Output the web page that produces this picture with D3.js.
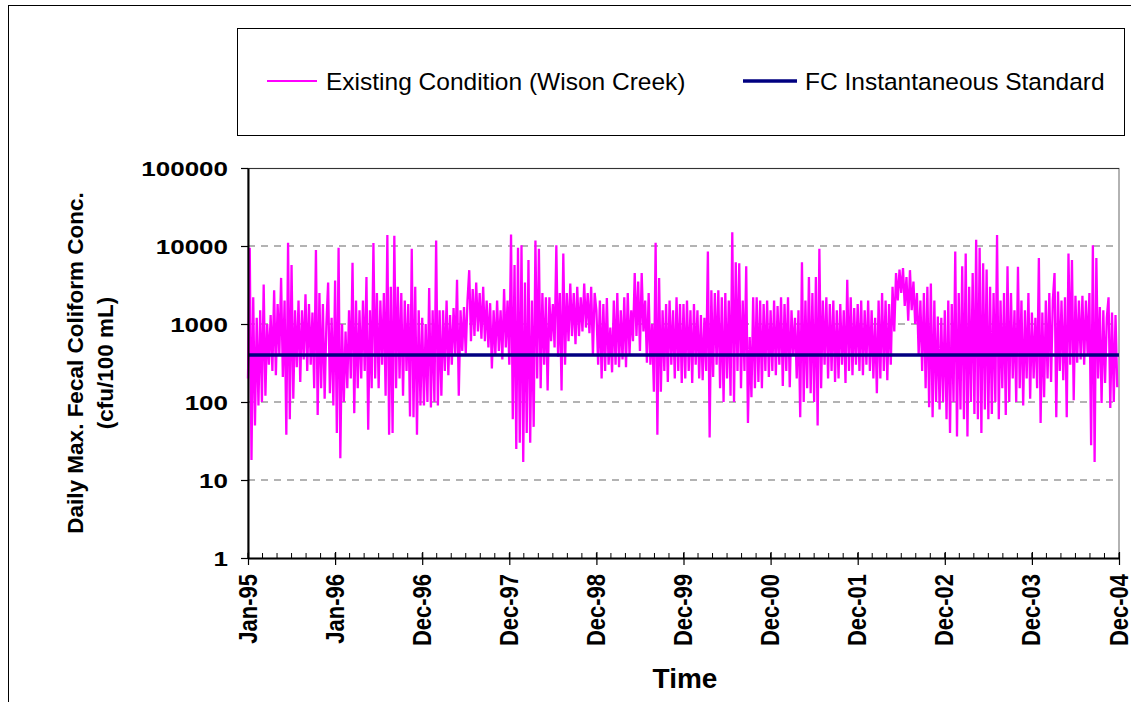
<!DOCTYPE html>
<html>
<head>
<meta charset="utf-8">
<script src="https://cdn.jsdelivr.net/npm/d3@7"></script>
<style>
  html, body { margin: 0; padding: 0; background: #fff; }
  svg { display: block; font-family: "Liberation Sans", Arial, sans-serif; }
</style>
</head>
<body>
<script>
// ---------------- DATA ----------------
const seriesName = "Existing Condition (Wison Creek)";
const standardName = "FC Instantaneous Standard";
const standardValue = 400;
const xTickLabels = ["Jan-95","Jan-96","Dec-96","Dec-97","Dec-98","Dec-99","Dec-00","Dec-01","Dec-02","Dec-03","Dec-04"];
const yTickValues = [1, 10, 100, 1000, 10000, 100000];
const yGridValues = [10, 100, 1000, 10000];

// daily max fecal coliform (cfu/100 mL), sampled ~every 7 days, one list per year
const fc1995 = [200,9500,18,2200,50,1200,90,1500,100,3200,120,1000,300,1300,250,2700,220,1800,400,3900,210,2000,38,11000,60,5700,110,1500,280,2000,180,1500,350,2400,250,1800,300,1400,150,8900,68,2500,150,1800,110,1000,3400,130,1200,90];
const fc1996 = [3600,40,9500,19,1000,100,800,150,1500,200,6100,72,2000,150,1500,200,2000,250,4000,44,1500,150,10900,200,2500,150,2000,300,2500,120,13800,38,3000,40,13500,150,3000,200,2500,120,2000,250,1800,65,9200,64,3000,38,1500,90];
const fc1997 = [1200,90,1000,100,2900,85,1500,100,11800,90,1500,120,1500,250,2000,220,1300,300,1600,400,3700,120,1500,450,1650,420,2000,4900,600,2800,700,3400,800,2500,650,3000,600,2000,500,1850,270,1500,400,2000,450,1500,350,2800,500,2000];
const fc1998 = [300,14000,60,5700,25,9500,30,10200,17,3400,40,6600,30,2000,48,11800,200,9200,150,2500,300,2200,140,2200,600,1800,500,10200,380,2500,140,8000,300,2500,600,3300,700,2500,550,3000,700,2200,800,3300,900,2500,760,3000,400,2500];
const fc1999 = [1500,300,2000,200,1800,250,2150,300,900,240,2000,300,2500,280,1500,350,2200,280,2500,400,1500,600,4500,700,3500,450,4500,800,2000,320,2500,300,1000,135,11000,38,3900,135,1500,250,1800,180,2000,300,1500,200,2200,250,1800,175];
const fc2000 = [1800,200,2000,250,1500,175,1800,300,1500,200,1300,190,1200,250,8500,35,2700,210,2500,300,2700,150,2200,100,2500,200,2000,120,15000,100,6200,250,6000,150,2000,250,5500,54,680,115,2200,150,2200,180,2000,150,1800,250,2000,210];
const fc2001 = [1500,250,2000,220,1700,300,2200,160,1800,250,2200,155,1500,400,1200,200,1500,64,6200,100,2000,150,4000,130,2500,100,4000,50,9200,150,2000,300,2200,200,1800,250,2000,180,1500,200,1800,300,1500,175,3700,250,2200,220,1600,300];
const fc2002 = [1800,250,2000,220,1500,300,2000,250,1500,200,1200,130,2000,200,2500,250,2000,190,1800,300,3000,800,4500,2000,5000,2500,5200,1700,4000,1100,4900,1500,3500,1000,2500,400,2000,250,2500,150,3000,86,3300,64,2000,100,1250,80,1200,100];
const fc2003 = [1500,60,2000,40,1800,100,8500,36,2500,80,5500,60,8000,36,3000,100,4500,70,12000,60,9500,40,6000,80,5000,60,3000,70,2500,100,13800,60,2000,150,2500,68,5500,100,2500,200,1500,100,5400,150,2000,90,1500,200,2500,110];
const fc2004 = [1400,200,1200,150,7000,54,1400,115,2000,200,2500,180,2000,4500,64,2600,250,2000,190,2200,64,8000,300,6600,105,2300,320,2000,350,2300,300,2000,400,2500,28,10200,17,7000,200,1650,97,1500,175,1200,2200,84,1400,100,1300,155];
const yearlySeries = [fc1995, fc1996, fc1997, fc1998, fc1999, fc2000, fc2001, fc2002, fc2003, fc2004];
const daysPerYear = 365;

// ---------------- LAYOUT ----------------
const W = 1131, H = 702;
const plot = { left: 248, right: 1119, top: 168, bottom: 558 };

const svg = d3.select("body").append("svg").attr("width", W).attr("height", H);

// outer chart frame (top & left edges visible)
svg.append("line").attr("x1", 8).attr("x2", W).attr("y1", 5.5).attr("y2", 5.5).attr("stroke", "#000").attr("stroke-width", 1);
svg.append("line").attr("x1", 8.5).attr("x2", 8.5).attr("y1", 5).attr("y2", H).attr("stroke", "#000").attr("stroke-width", 1);

const x = d3.scaleLinear().domain([0, daysPerYear * (xTickLabels.length - 1)]).range([plot.left, plot.right]);
const y = d3.scaleLog().domain([1, 100000]).range([plot.bottom, plot.top]);

const data = yearlySeries.flatMap((arr, yi) => arr.map((v, i) => ({ day: yi * daysPerYear + i * daysPerYear / arr.length, v })));

// plot frame
svg.append("rect").attr("x", plot.left).attr("y", plot.top + 0.5)
  .attr("width", plot.right - plot.left).attr("height", plot.bottom - plot.top)
  .attr("fill", "none").attr("stroke", "#808080").attr("stroke-width", 1.2);
svg.append("line").attr("x1", plot.left).attr("x2", plot.right).attr("y1", plot.top + 0.5).attr("y2", plot.top + 0.5)
  .attr("stroke", "#333").attr("stroke-width", 1);

// gridlines
svg.append("g").selectAll("line").data(yGridValues).join("line")
  .attr("x1", plot.left).attr("x2", plot.right)
  .attr("y1", d => y(d)).attr("y2", d => y(d))
  .attr("stroke", "#9a9a9a").attr("stroke-width", 1.5).attr("stroke-dasharray", "7,6");

// series
svg.append("path").datum(data)
  .attr("fill", "none").attr("stroke", "#ff00ff").attr("stroke-width", 2.3).attr("stroke-linejoin", "bevel")
  .attr("d", d3.line().x(d => x(d.day)).y(d => y(d.v)));

// standard
svg.append("line").attr("x1", x(0)).attr("x2", x(daysPerYear * (xTickLabels.length - 1)))
  .attr("y1", y(standardValue)).attr("y2", y(standardValue))
  .attr("stroke", "#000080").attr("stroke-width", 3.5);

// y axis
const yAxis = svg.append("g").attr("transform", `translate(${plot.left},0)`)
  .call(d3.axisLeft(y).tickValues(yTickValues).tickFormat(d3.format("d")).tickSize(7).tickSizeOuter(0));
yAxis.select(".domain").attr("stroke", "#000").attr("stroke-width", 2);
yAxis.selectAll(".tick line").attr("stroke", "#000").attr("stroke-width", 1.2);
yAxis.selectAll(".tick text")
  .attr("font-family", "'Liberation Sans', Arial, sans-serif")
  .attr("font-weight", "bold").attr("font-size", 20).attr("fill", "#000")
  .attr("x", 0).attr("dy", "0.36em")
  .attr("transform", "translate(-20,0) scale(1.3,1)");

// x axis minor ticks
const minorTicks = d3.range(0, daysPerYear * (xTickLabels.length - 1) + 1, daysPerYear / 6);
svg.append("g").selectAll("line").data(minorTicks).join("line")
  .attr("x1", d => x(d)).attr("x2", d => x(d))
  .attr("y1", plot.bottom - 5).attr("y2", plot.bottom)
  .attr("stroke", "#000").attr("stroke-width", 1);

const majorDays = xTickLabels.map((_, i) => i * daysPerYear);
const xAxis = svg.append("g").attr("transform", `translate(0,${plot.bottom})`)
  .call(d3.axisBottom(x).tickValues(majorDays).tickFormat((d, i) => xTickLabels[i]).tickSize(7).tickSizeOuter(0));
xAxis.select(".domain").attr("stroke", "#000").attr("stroke-width", 2);
xAxis.selectAll(".tick line").attr("stroke", "#000").attr("stroke-width", 1.2).attr("y1", -6);
xAxis.selectAll(".tick text")
  .attr("font-family", "'Liberation Sans', Arial, sans-serif")
  .attr("font-weight", "bold").attr("font-size", 22).attr("fill", "#000")
  .attr("text-anchor", "end").attr("x", 0).attr("y", 0).attr("dy", 0)
  .attr("transform", "translate(8,16) rotate(-90) scale(1,1.2)");

// axis titles
const yTitle = svg.append("text").attr("transform", "translate(83,363) rotate(-90)")
  .attr("text-anchor", "middle").attr("font-weight", "bold").attr("font-size", 22.5).attr("fill", "#000");
yTitle.append("tspan").attr("x", 0).attr("y", 0).text("Daily Max. Fecal Coliform Conc.");
yTitle.append("tspan").attr("x", 0).attr("y", 30).text("(cfu/100 mL)");

svg.append("text").attr("x", 685).attr("y", 688).attr("text-anchor", "middle")
  .attr("font-weight", "bold").attr("font-size", 28).attr("fill", "#000").text("Time");

// legend
const legend = svg.append("g");
legend.append("rect").attr("x", 237.5).attr("y", 28.5).attr("width", 887).attr("height", 107)
  .attr("fill", "#fff").attr("stroke", "#000").attr("stroke-width", 1);
const legendItems = [
  { name: seriesName, color: "#ff00ff", width: 2, x0: 267, x1: 317, tx: 326 },
  { name: standardName, color: "#000080", width: 3.5, x0: 743, x1: 797, tx: 805 }
];
legendItems.forEach(it => {
  legend.append("line").attr("x1", it.x0).attr("x2", it.x1).attr("y1", 81).attr("y2", 81)
    .attr("stroke", it.color).attr("stroke-width", it.width);
  legend.append("text").attr("x", it.tx).attr("y", 90).attr("font-size", 24.5).attr("fill", "#000").text(it.name);
});
</script>
</body>
</html>
